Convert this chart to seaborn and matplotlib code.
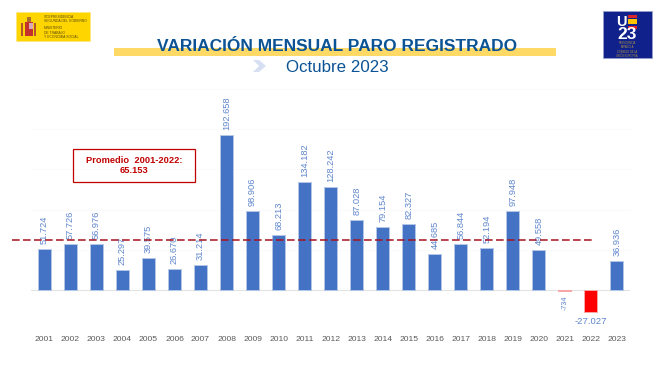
import pandas as pd
import matplotlib.pyplot as plt
import seaborn as sns
from matplotlib.patches import Rectangle, Polygon

years = [str(y) for y in range(2001, 2024)]
values = [51724, 57726, 56976, 25297, 39575, 26670, 31214, 192658, 98906, 68213, 134182, 128242,
          87028, 79154, 82327, 44685, 56844, 52194, 97948, 49558, -734, -27027, 36936]
linea_promedio = 62800
title = 'VARIACIÓN MENSUAL PARO REGISTRADO'
subtitle = 'Octubre 2023'
promedio_text = 'Promedio  2001-2022:\n65.153'

W, H = 670, 376
LABEL = '#5f86cc'
NAVY = '#0b5394'


def fx(px):
    return px / W


def fy(px):
    return 1 - px / H


def frect(fig, x0, y0, x1, y1, **kw):
    fig.add_artist(Rectangle((fx(x0), fy(y1)), (x1 - x0) / W, (y1 - y0) / H, transform=fig.transFigure, **kw))


sns.set_theme(style='white')
plt.rcParams['font.family'] = ['Liberation Sans', 'DejaVu Sans']

df = pd.DataFrame({'year': years, 'value': values})
df['sign'] = ['pos' if v > 0 else 'neg' for v in values]

fig = plt.figure(figsize=(6.7, 3.76), dpi=100)
ax = fig.add_axes([fx(31.3), fy(330.6), (630 - 31.3) / W, (330.6 - 88.8) / H])

sns.barplot(data=df, x='year', y='value', hue='sign', palette={'pos': '#4472c4', 'neg': '#ff0000'},
            dodge=False, legend=False, width=0.5, ax=ax, zorder=3, edgecolor='#b4c7e7', linewidth=0.7,
            saturation=1)
for p in ax.patches:
    if p.get_height() < 0:
        p.set_edgecolor('#f7a8a8')
ax.set_xlim(-0.5, 22.5)
ax.set_ylim(-50000, 250000)
ax.set_yticks([-50000, 0, 50000, 100000, 150000, 200000, 250000])
ax.set_yticklabels([])
ax.grid(axis='y', color='#fafafa', lw=0.7)
ax.axhline(0, color='#e3e3e3', lw=0.8, zorder=2)
ax.set_axisbelow(True)
ax.set_xlabel('')
ax.set_ylabel('')
ax.tick_params(axis='x', length=0, pad=4.2, labelsize=6.1, labelcolor='#595959')
ax.tick_params(axis='y', length=0)
sns.despine(ax=ax, left=True, bottom=True, top=True, right=True)

# value labels, spanish thousands dot
for i, v in enumerate(values):
    lab = f'{v:,}'.replace(',', '.')
    if v == -27027:
        ax.annotate(lab, (i, v), xytext=(0, -3.5), textcoords='offset points', ha='center', va='top',
                    fontsize=6.8, color=LABEL, zorder=5)
    elif v < 0:
        ax.annotate(lab, (i, v), xytext=(0, -3.5), textcoords='offset points', ha='center', va='top',
                    rotation=90, fontsize=5.2, color=LABEL, zorder=5)
    else:
        ax.annotate(lab, (i, v), xytext=(0, 3.6), textcoords='offset points', ha='center', va='bottom',
                    rotation=90, fontsize=6.7, color=LABEL, zorder=5)

ax.hlines(linea_promedio, -1.24, 21.08, colors='#a5121f', linestyles=(0, (5, 2.2)), lw=1.1, clip_on=False, zorder=6)

fig.text(fx(134), fy(165.5), promedio_text, ha='center', va='center', fontsize=6.7, fontweight='bold',
         color='#c00000', linespacing=1.25, zorder=8)
frect(fig, 73, 149, 195, 182, fill=False, edgecolor='#c00000', lw=0.9)

# title band
frect(fig, 114, 48, 556, 56, facecolor='#ffd966', edgecolor='none', zorder=1)
fig.text(fx(337), fy(46.5), title, ha='center', va='center', fontsize=12.55, fontweight='bold', color=NAVY, zorder=3)
fig.text(fx(337), fy(67), subtitle, ha='center', va='center', fontsize=12.2, color=NAVY, zorder=3)
fig.add_artist(Polygon([(fx(253), fy(60)), (fx(259), fy(60)), (fx(266), fy(66)), (fx(259), fy(72)),
                        (fx(253), fy(72)), (fx(259), fy(66))], transform=fig.transFigure,
                       facecolor='#d6e0f2', edgecolor='none'))

# ministry logo
frect(fig, 16, 12, 90, 41, facecolor='#ffd500', edgecolor='#ffe680', lw=0.5)
frect(fig, 21, 23, 23.5, 36, facecolor='#b5542b', edgecolor='none')
frect(fig, 33.5, 23, 36, 36, facecolor='#b5542b', edgecolor='none')
frect(fig, 25, 22, 33, 36, facecolor='#c4312c', edgecolor='none')
frect(fig, 29, 23, 33, 29, facecolor='#d9a7b5', edgecolor='none')
frect(fig, 27, 17, 31, 22, facecolor='#a8702a', edgecolor='none')
fig.text(fx(43.5), fy(19), 'VICEPRESIDENCIA\nSEGUNDA DEL GOBIERNO', ha='left', va='center', fontsize=2.4,
         color='#5a4a10', linespacing=1.3)
fig.text(fx(43.5), fy(32.5), 'MINISTERIO\nDE TRABAJO\nY ECONOMÍA SOCIAL', ha='left', va='center', fontsize=2.4,
         color='#5a4a10', linespacing=1.3)

# presidency logo
frect(fig, 603, 11, 652, 58, facecolor='#10218b', edgecolor='#9aa3cf', lw=0.5)
fig.text(fx(621.5), fy(21.5), 'U', ha='center', va='center', fontsize=10.5, fontweight='bold', color='white')
frect(fig, 628, 15, 637, 18, facecolor='#d8232a', edgecolor='none')
frect(fig, 628, 19.5, 637, 24, facecolor='#ffc400', edgecolor='none')
frect(fig, 628, 25.5, 637, 28.5, facecolor='#d8232a', edgecolor='none')
fig.text(fx(627), fy(34.5), '23', ha='center', va='center', fontsize=12.5, fontweight='bold', color='white')
fig.text(fx(627), fy(49.5), 'PRESIDENCIA\nESPAÑOLA\nCONSEJO DE LA\nUNIÓN EUROPEA', ha='center', va='center',
         fontsize=1.8, color='#b59a3a', linespacing=1.1)

plt.savefig('out.png', dpi=100)
